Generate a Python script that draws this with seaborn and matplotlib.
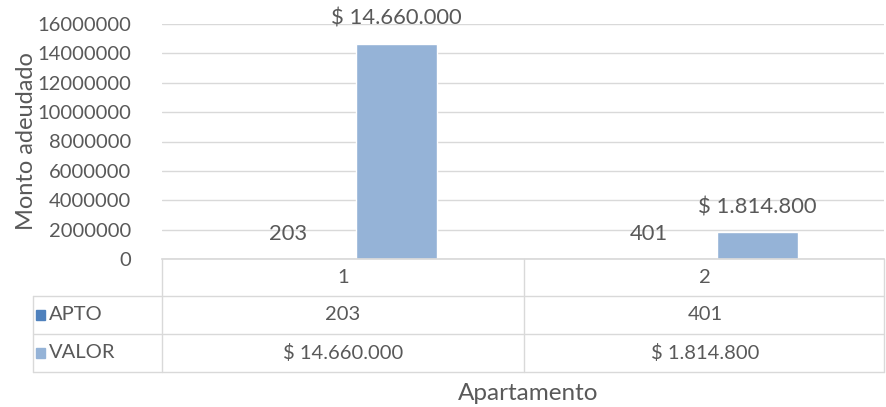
import matplotlib
matplotlib.use("Agg")
import matplotlib.pyplot as plt
from matplotlib.lines import Line2D
from matplotlib.patches import Rectangle
import seaborn as sns
import pandas as pd

categories = ["1", "2"]
apto = [203, 401]
valor = [14660000, 1814800]
series_names = ["APTO", "VALOR"]
yticks = [0, 2000000, 4000000, 6000000, 8000000, 10000000, 12000000, 14000000, 16000000]

W, H = 886, 407
TXT = "#595959"
GRID = "#d9d9d9"
C_APTO = "#4f81bd"
C_VALOR = "#95b3d7"

sns.set_theme(style="white")
plt.rcParams["font.family"] = ["Lato", "DejaVu Sans"]

def money(v):
    return "$ " + f"{v:,.0f}".replace(",", ".")

df = pd.DataFrame({
    "cat": categories * 2,
    "series": [series_names[0]] * len(categories) + [series_names[1]] * len(categories),
    "value": apto + valor,
})

fig = plt.figure(figsize=(W / 100, H / 100), dpi=100)
fig.patch.set_facecolor("white")

def fx(px):
    return px / W

def fy(py):
    return 1 - py / H

ax = fig.add_axes([fx(162), fy(259), fx(884 - 162), (259 - 24) / H])
sns.barplot(data=df, x="cat", y="value", hue="series", palette=[C_APTO, C_VALOR],
            width=0.6, gap=0.25, ax=ax, legend=False, saturation=1)
ax.set_ylim(0, 16000000)
ax.set_xlim(-0.5, 1.5)
ax.set_yticks(yticks)
ax.set_yticklabels([str(t) for t in yticks], fontsize=14.5, color=TXT)
ax.tick_params(axis="y", length=0, pad=22)
ax.set_xticks([])
ax.set_xlabel("")
ax.set_ylabel("Monto adeudado", fontsize=17, color=TXT)
ax.yaxis.set_label_coords((37 - 162) / (884 - 162), 0.5)
ax.grid(axis="y", color=GRID, linewidth=1)
ax.set_axisbelow(True)
for s in ["top", "right", "left"]:
    ax.spines[s].set_visible(False)
ax.spines["bottom"].set_color(GRID)

# data labels
conts = ax.containers
ax.bar_label(conts[0], labels=[str(v) for v in apto], padding=11, fontsize=15.8, color=TXT)
ax.bar_label(conts[1], labels=[money(v) for v in valor], padding=11, fontsize=15.8, color=TXT)

# data table
lines = []
lines.append(((33, 884), (296, 296)))
lines.append(((33, 884), (334, 334)))
lines.append(((33, 884), (372, 372)))
col_x = [162, 524, 884]
for x in col_x:
    lines.append(((x, x), (259, 372)))
lines.append(((33, 33), (296, 372)))
for (xs, ys) in lines:
    fig.add_artist(Line2D([fx(xs[0]), fx(xs[1])], [fy(ys[0]), fy(ys[1])],
                          color=GRID, linewidth=1))

centers = [343, 705]
for c, lab in zip(centers, categories):
    fig.text(fx(c), fy(277.5), lab, ha="center", va="center", fontsize=14.5, color=TXT)
for c, v in zip(centers, apto):
    fig.text(fx(c), fy(315), str(v), ha="center", va="center", fontsize=14.5, color=TXT)
for c, v in zip(centers, valor):
    fig.text(fx(c), fy(353), money(v), ha="center", va="center", fontsize=14.5, color=TXT)

# legend keys in table
for yc, name, col in [(315, series_names[0], C_APTO), (353, series_names[1], C_VALOR)]:
    fig.add_artist(Rectangle((fx(36), fy(yc + 5)), fx(9), 10 / H, color=col,
                             transform=fig.transFigure))
    fig.text(fx(49), fy(yc), name, ha="left", va="center", fontsize=14.5, color=TXT)

fig.text(fx(528), fy(393), "Apartamento", ha="center", va="center", fontsize=17.5, color=TXT)

fig.savefig("out.png", dpi=100, facecolor="white")
